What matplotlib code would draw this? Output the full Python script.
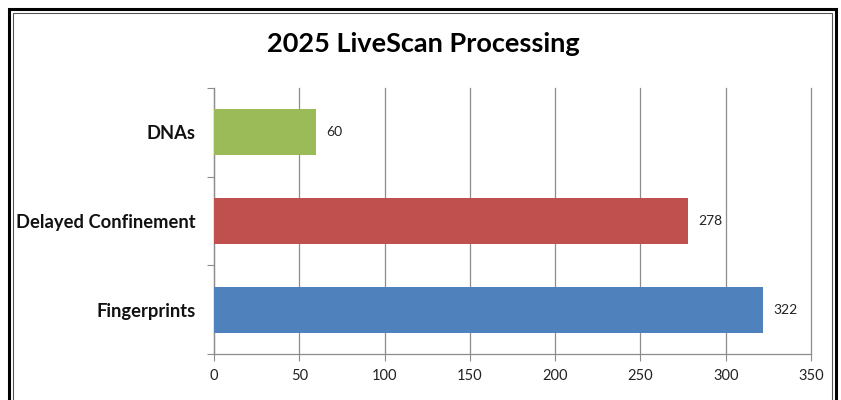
import matplotlib.pyplot as plt
from matplotlib.patches import Rectangle

categories = ["Fingerprints", "Delayed Confinement", "DNAs"]
values = [322, 278, 60]
colors = ["#4F81BD", "#C0504D", "#9BBB59"]
xticks = [0, 50, 100, 150, 200, 250, 300, 350]

plt.rcParams['font.family'] = ['Lato', 'DejaVu Sans']

fig = plt.figure(figsize=(8.41, 4.0), dpi=100)
ax = fig.add_axes([214 / 841, 1 - 354 / 400, (811 - 214) / 841, (354 - 88) / 400])

pos = list(range(len(categories)))
bars = ax.barh(pos, values, height=0.52, color=colors, zorder=3)

for p, v in zip(pos, values):
    ax.text(v + 6, p, str(v), va='center', ha='left', fontsize=10, color='#222222')

ax.set_xlim(0, 350)
ax.set_ylim(-0.5, len(categories) - 0.5)
ax.set_xticks(xticks)
ax.set_xticklabels([str(t) for t in xticks], fontsize=10.5, color='#222222')
ax.tick_params(axis='x', length=5, color='#8c8c8c', pad=6)

# major ticks at category boundaries, labels on minor ticks at centres
ax.set_yticks([i - 0.5 for i in range(len(categories) + 1)])
ax.set_yticklabels([])
ax.tick_params(axis='y', which='major', length=5, color='#8c8c8c')
ax.set_yticks(pos, minor=True)
ax.set_yticklabels(categories, minor=True, fontsize=13.2, fontweight='bold', color='#111111')
ax.tick_params(axis='y', which='minor', length=0, pad=13.5)

ax.grid(axis='x', color='#8c8c8c', linewidth=0.9, zorder=0)
for line in ax.get_xgridlines():
    line.set_clip_on(False)
for s in ['top', 'right']:
    ax.spines[s].set_visible(False)
for s in ['left', 'bottom']:
    ax.spines[s].set_color('#8c8c8c')
    ax.spines[s].set_linewidth(0.9)

fig.text(423 / 841, 1 - 44 / 400, "2025 LiveScan Processing", ha='center', va='center',
         fontsize=19.5, fontweight='bold', color='#000000')

# double frame around the chart
fig.patches.append(Rectangle((9 / 841, -0.05), (836 - 9) / 841, 1 - 9 / 400 + 0.05,
                             transform=fig.transFigure, fill=False, edgecolor='black', linewidth=2.2))
fig.patches.append(Rectangle((13 / 841, -0.05), (832 - 13) / 841, 1 - 13 / 400 + 0.05,
                             transform=fig.transFigure, fill=False, edgecolor='#555555', linewidth=0.8))

fig.savefig("out.png", dpi=100)
